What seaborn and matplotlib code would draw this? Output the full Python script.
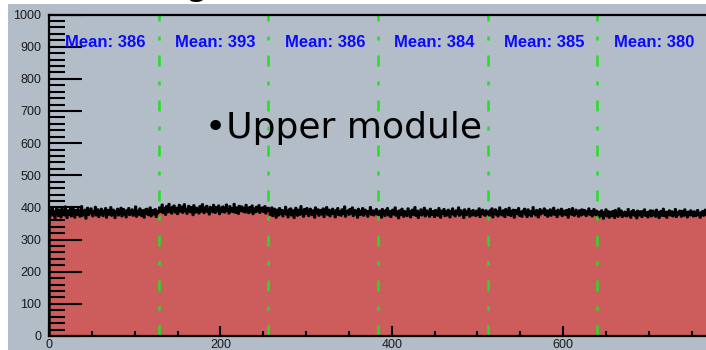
import numpy as np
import pandas as pd
import matplotlib
matplotlib.use("Agg")
import matplotlib.pyplot as plt
from matplotlib.ticker import MultipleLocator
from matplotlib.patches import Rectangle
import seaborn as sns

# ---------------- data ----------------
module_edges = [0, 128, 256, 384, 512, 640, 768]
module_means = [386, 393, 386, 384, 385, 380]
label_text = "\u2022Upper module"

m1 = [372,395,381,402,377,389,368,391,399,383,375,394,386,371,398,380,
      390,377,404,385,369,392,388,379,397,374,386,401,382,370,393,387,
      379,396,384,373,391,405,376,388,382,394,367,389,400,378,385,392,
      398,381,374,390,386,403,377,383,395,372,389,380,397,386,375,391,
      384,399,370,387,393,379,388,402,376,385,394,381,369,390,386,397,
      377,392,383,400,374,389,396,380,387,371,393,385,399,378,384,390,
      395,376,389,382,404,373,386,391,379,398,383,375,392,387,370,394,
      381,397,385,378,390,401,374,388,393,380,386,396,372,389,383,392]
m2 = [401,388,396,410,384,399,392,379,405,394,387,412,390,398,383,403,
      395,407,386,393,400,381,397,409,389,396,404,385,392,411,394,388,
      382,399,406,391,387,402,395,378,408,393,386,400,397,390,383,405,
      398,389,411,394,384,401,392,406,388,396,380,403,395,399,387,409,
      393,385,402,397,390,407,381,395,400,388,404,392,386,398,410,391,
      396,383,405,389,399,394,387,412,392,385,401,397,382,406,393,390,
      404,395,388,400,386,409,391,397,384,402,394,389,407,381,398,393,
      387,403,396,390,408,385,399,392,401,388,394,405,383,397,391,400]
m3 = [392,379,388,401,375,386,397,383,370,394,389,377,399,385,381,393,
      374,390,386,403,380,388,371,395,384,398,377,387,392,369,389,400,
      383,376,394,387,379,405,382,390,373,396,388,381,399,386,375,391,
      397,384,378,392,386,370,401,389,383,395,376,388,393,380,387,398,
      372,391,385,402,379,387,394,374,389,383,397,381,388,371,393,386,
      399,378,384,390,376,395,387,382,404,373,389,385,392,379,396,383,
      388,401,375,386,393,380,389,370,397,385,378,391,384,399,376,387,
      394,381,388,373,390,386,402,379,385,392,377,389,383,396,380,387]
m4 = [379,391,384,370,396,382,388,375,393,386,399,377,383,390,372,387,
      394,380,385,401,376,389,382,368,392,384,378,397,386,373,390,381,
      387,375,398,383,390,371,385,394,379,388,402,376,384,391,369,386,
      381,395,377,389,384,400,374,387,392,380,386,373,397,383,378,390,
      385,372,393,381,388,376,399,384,370,391,382,387,396,375,389,380,
      377,394,386,371,390,383,398,379,385,374,392,387,381,401,376,384,
      392,380,387,369,395,383,378,389,386,397,373,384,390,377,393,382,
      386,375,391,384,379,398,372,388,383,394,380,387,376,392,385,381]
m5 = [388,376,393,382,398,371,387,384,395,379,390,374,386,401,380,389,
      377,392,385,372,396,383,389,378,400,386,375,391,382,394,370,387,
      393,381,386,399,376,388,384,373,391,385,397,380,387,372,395,383,
      379,390,374,388,402,382,386,377,393,384,371,389,396,380,385,391,
      386,398,378,385,392,373,389,381,395,376,387,383,400,379,390,384,
      372,394,386,380,388,397,375,384,391,382,378,393,387,370,396,385,
      390,379,399,383,376,387,394,381,386,373,392,388,377,395,384,380,
      393,386,375,389,382,398,379,385,390,374,387,396,383,378,391,386]
m6 = [383,371,388,376,392,379,367,386,381,395,374,384,389,370,387,378,
      375,390,382,369,393,380,386,373,398,378,385,391,372,383,376,388,
      386,374,381,396,377,384,370,389,379,393,382,375,387,368,391,380,
      377,389,384,372,390,381,395,376,383,386,371,388,379,392,374,385,
      391,378,385,373,394,380,387,369,382,390,376,384,397,375,381,388,
      370,386,379,392,377,383,389,374,385,380,396,372,387,378,382,391,
      384,373,390,381,376,395,379,386,371,388,383,377,392,380,385,374,
      389,382,375,387,393,378,384,370,386,381,390,376,383,394,379,385]

counts = m1 + m2 + m3 + m4 + m5 + m6
n_ch = len(counts)
df = pd.DataFrame({"channel": np.arange(n_ch) + 0.5, "counts": counts})

# ---------------- style ----------------
BG = "#b2bdc8"
RED = "#cd5c5c"
GREEN = "#22e022"
BLUE = "#0a0aff"

fig = plt.figure(figsize=(7.06, 3.5), dpi=100, facecolor="white")
fig.patches.append(Rectangle((8 / 706, 0), 1, 1 - 4 / 350, transform=fig.transFigure,
                             facecolor=BG, edgecolor="none", zorder=-10))

ax = fig.add_axes([49 / 706, 14 / 350, 658 / 706, 321.5 / 350])
ax.set_facecolor(BG)

sns.histplot(data=df, x="channel", weights="counts", bins=n_ch,
             binrange=(module_edges[0], module_edges[-1]),
             element="step", fill=True, alpha=1,
             facecolor=RED, edgecolor="black", linewidth=1.7, ax=ax)

for xb in module_edges[1:-1]:
    ax.axvline(xb, color=GREEN, linewidth=1.8,
               linestyle=(0, (4.4, 6.0, 1.6, 6.0)), zorder=5)

for i, mval in enumerate(module_means):
    xc = (module_edges[i] + module_edges[i + 1]) / 2
    ax.text(xc + 2, 912, f"Mean: {mval}", ha="center", va="center",
            color=BLUE, fontsize=12, fontweight="bold",
            family="Liberation Sans", zorder=6)

ax.set_xlim(module_edges[0], module_edges[-1])
ax.set_ylim(0, 1000)
ax.set_xlabel("")
ax.set_ylabel("")

ax.xaxis.set_major_locator(MultipleLocator(200))
ax.xaxis.set_minor_locator(MultipleLocator(50))
ax.yaxis.set_major_locator(MultipleLocator(100))
ax.yaxis.set_minor_locator(MultipleLocator(20))

ax.tick_params(axis="y", which="major", direction="in", length=23.5, width=1.5,
               color="black", pad=5.5, labelsize=9, labelcolor="#1a1a1a")
ax.tick_params(axis="y", which="minor", direction="in", length=11.5, width=1.5,
               color="black")
ax.tick_params(axis="x", which="major", direction="in", length=7, width=1.5,
               color="black", pad=2.0, labelsize=9, labelcolor="#1a1a1a")
ax.tick_params(axis="x", which="minor", direction="in", length=3.6, width=1.5,
               color="black")
for lab in ax.get_xticklabels() + ax.get_yticklabels():
    lab.set_family("Liberation Sans")

for side in ["left", "bottom", "top"]:
    ax.spines[side].set_color("black")
    ax.spines[side].set_linewidth(1.6)
    ax.spines[side].set_zorder(7)
ax.spines["right"].set_visible(False)

fig.text(205 / 706, 1 - 138 / 350, label_text, fontsize=26,
         family="DejaVu Sans", color="black", ha="left", va="baseline")
fig.text(186 / 706, 1 + 4.5 / 350, "g", fontsize=26,
         family="DejaVu Sans", color="black", ha="left", va="baseline")

fig.savefig("out.png", dpi=100, facecolor="white")
